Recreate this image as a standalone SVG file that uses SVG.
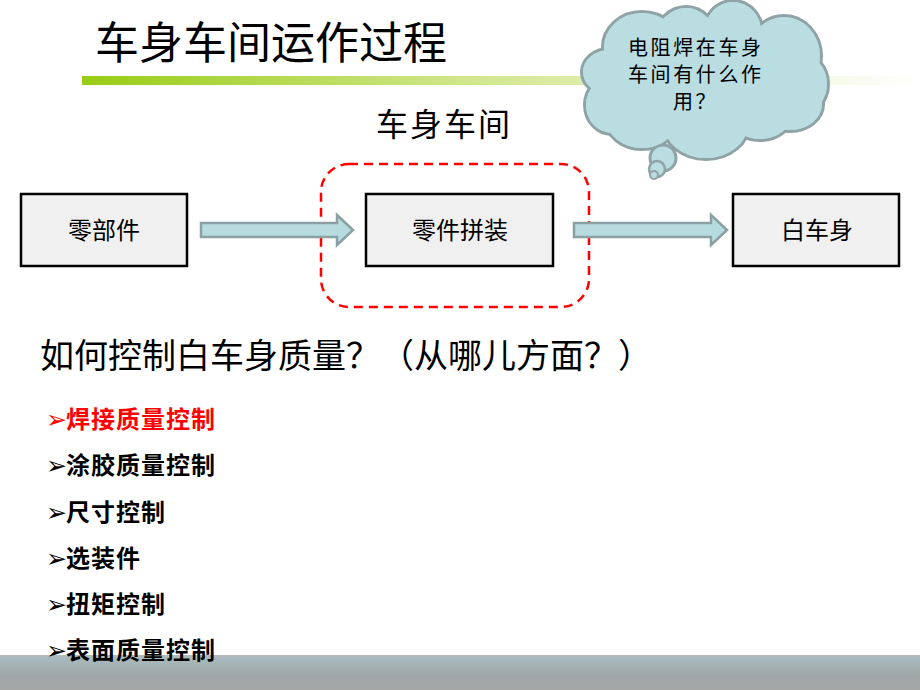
<svg xmlns="http://www.w3.org/2000/svg" width="920" height="690" viewBox="0 0 920 690">
  <defs>
    <linearGradient id="bar" x1="0" y1="0" x2="1" y2="0">
      <stop offset="0" stop-color="#99cc14"/>
      <stop offset="0.45" stop-color="#cfe68a"/>
      <stop offset="1" stop-color="#ffffff"/>
    </linearGradient>
    <linearGradient id="band" x1="0" y1="0" x2="0" y2="1">
      <stop offset="0" stop-color="#a9bec2"/>
      <stop offset="0.6" stop-color="#a0a6a6"/>
      <stop offset="1" stop-color="#a5a6a6"/>
    </linearGradient>
    <g id="cloudShapes">
      <ellipse cx="642" cy="47" rx="38" ry="34"/>
      <ellipse cx="686" cy="40" rx="30" ry="32"/>
      <ellipse cx="733" cy="31" rx="28" ry="29"/>
      <ellipse cx="784" cy="56" rx="36" ry="39"/>
      <ellipse cx="800" cy="84" rx="27" ry="30"/>
      <ellipse cx="790" cy="104" rx="32" ry="26"/>
      <ellipse cx="760" cy="113" rx="32" ry="26"/>
      <ellipse cx="706" cy="124" rx="42" ry="34"/>
      <ellipse cx="642" cy="118" rx="36" ry="30"/>
      <ellipse cx="612" cy="105" rx="26" ry="28"/>
      <ellipse cx="609" cy="72" rx="26" ry="22"/>
      <ellipse cx="705" cy="80" rx="92" ry="56"/>
    </g>
  </defs>
  <style>
    .cjk { font-family: "Noto Sans CJK SC", "Noto Sans CJK JP", sans-serif; }
    .box { fill: #f0f0f0; stroke: #000000; stroke-width: 2.5; }
    .boxtext { font-size: 24px; fill: #000000; text-anchor: middle; }
    .arrow { fill: #b7dce0; stroke: #8aa0a3; stroke-width: 2.5; stroke-linejoin: miter; }
    .bullet { font-size: 24px; font-weight: bold; fill: #000000; letter-spacing: 1px; }
    .mark { font-family: "DejaVu Sans", sans-serif; font-weight: normal; font-size: 25px; letter-spacing: 0; }
  </style>

  <rect x="0" y="0" width="920" height="690" fill="#ffffff"/>

  <!-- title -->
  <g id="title">
    <text class="cjk" x="95" y="59" font-size="44" fill="#000000">车身车间运作过程</text>
    <rect x="82" y="76" width="838" height="9" fill="url(#bar)"/>
  </g>

  <!-- cloud callout -->
  <g id="cloud">
    <use href="#cloudShapes" fill="#b9dde1" stroke="#8fa2a5" stroke-width="6"/>
    <use href="#cloudShapes" fill="#b9dde1" stroke="none"/>
    <circle cx="663" cy="158" r="13" fill="#b9dde1" stroke="#8fa2a5" stroke-width="3"/>
    <use href="#cloudShapes" fill="#b9dde1" stroke="none"/>
    <circle cx="657" cy="169" r="8" fill="#b9dde1" stroke="#8fa2a5" stroke-width="2.5"/>
    <circle cx="654" cy="175" r="4" fill="#b9dde1" stroke="#8fa2a5" stroke-width="2"/>
    <g class="cjk" font-size="20" fill="#000000" letter-spacing="2.6">
      <text x="628" y="55">电阻焊在车身</text>
      <text x="628" y="82">车间有什么作</text>
      <text x="673" y="109">用？</text>
    </g>
  </g>

  <!-- workshop label -->
  <g id="workshop">
    <rect x="321" y="164" width="268" height="143" rx="28" ry="28" fill="none" stroke="#ff0000" stroke-width="2.5" stroke-dasharray="9 6"/>
    <text class="cjk" x="376" y="136" font-size="32" fill="#000000" letter-spacing="2">车身车间</text>
  </g>

  <!-- nodes -->
  <g id="node-parts">
    <rect class="box" x="21" y="194" width="166" height="72"/>
    <text class="cjk boxtext" x="104" y="239">零部件</text>
  </g>
  <g id="node-assembly">
    <rect class="box" x="366" y="194" width="187" height="72"/>
    <text class="cjk boxtext" x="460" y="239">零件拼装</text>
  </g>
  <g id="node-biw">
    <rect class="box" x="733" y="194" width="166" height="72"/>
    <text class="cjk boxtext" x="817" y="239">白车身</text>
  </g>

  <!-- connectors -->
  <g id="connectors">
    <path class="arrow" d="M201,223 L337,223 L337,215 L353,230 L337,245 L337,237 L201,237 Z"/>
    <path class="arrow" d="M574,223 L711,223 L711,215 L727,230 L711,245 L711,237 L574,237 Z"/>
  </g>

  <!-- question -->
  <g id="question">
    <text class="cjk" x="40" y="368" font-size="34" fill="#000000">如何控制白车身质量？（从哪儿方面？）</text>
  </g>

  <!-- bullets -->
  <g id="bullets" class="cjk">
    <text class="bullet" x="46" y="428" fill="#ff0000"><tspan class="mark" fill="#ff0000">➢</tspan><tspan x="66" fill="#ff0000">焊接质量控制</tspan></text>
    <text class="bullet" x="46" y="474"><tspan class="mark">➢</tspan><tspan x="66">涂胶质量控制</tspan></text>
    <text class="bullet" x="46" y="521"><tspan class="mark">➢</tspan><tspan x="66">尺寸控制</tspan></text>
    <text class="bullet" x="46" y="567"><tspan class="mark">➢</tspan><tspan x="66">选装件</tspan></text>
    <text class="bullet" x="46" y="613"><tspan class="mark">➢</tspan><tspan x="66">扭矩控制</tspan></text>
  </g>

  <!-- bottom band -->
  <g id="footer">
    <rect x="0" y="655" width="920" height="35" fill="url(#band)"/>
    <rect x="0" y="655" width="920" height="2" fill="#b4b9b9"/>
  </g>
  <text class="cjk bullet" x="46" y="659"><tspan class="mark">➢</tspan><tspan x="66">表面质量控制</tspan></text>
</svg>
